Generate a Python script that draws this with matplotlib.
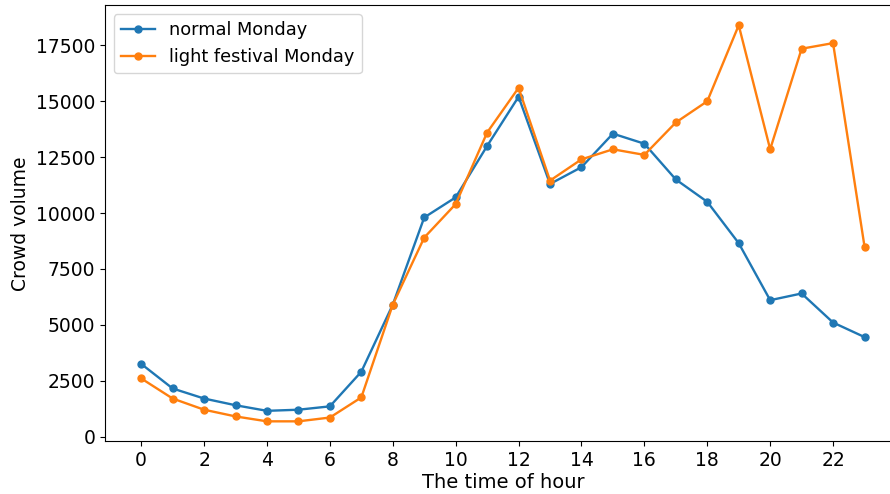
import matplotlib.pyplot as plt

# Hourly crowd volume for two Mondays
hours = list(range(24))
normal_monday = [3250, 2150, 1700, 1400, 1150, 1200, 1350, 2900, 5900, 9800,
                 10700, 13000, 15200, 11300, 12050, 13550, 13100, 11500, 10500,
                 8650, 6100, 6400, 5100, 4450]
festival_monday = [2600, 1700, 1200, 900, 680, 680, 850, 1750, 5900, 8900,
                   10400, 13600, 15600, 11450, 12400, 12850, 12600, 14050, 15000,
                   18400, 12850, 17350, 17600, 8500]

fig = plt.figure(figsize=(8.9, 4.94), dpi=100)
ax = fig.add_axes([0.118, 0.107, 0.894, 0.882])

ax.plot(hours, normal_monday, marker="o", markersize=5, linewidth=1.7,
        label="normal Monday")
ax.plot(hours, festival_monday, marker="o", markersize=5, linewidth=1.7,
        label="light festival Monday")

ax.set_xticks(range(0, 24, 2))
ax.tick_params(labelsize=13.5)
ax.set_xlabel("The time of hour", fontsize=14, labelpad=2)
ax.set_ylabel("Crowd volume", fontsize=13.5)
ax.legend(loc="upper left", fontsize=12.8, handlelength=1.9)

plt.savefig("out.png", dpi=100)
